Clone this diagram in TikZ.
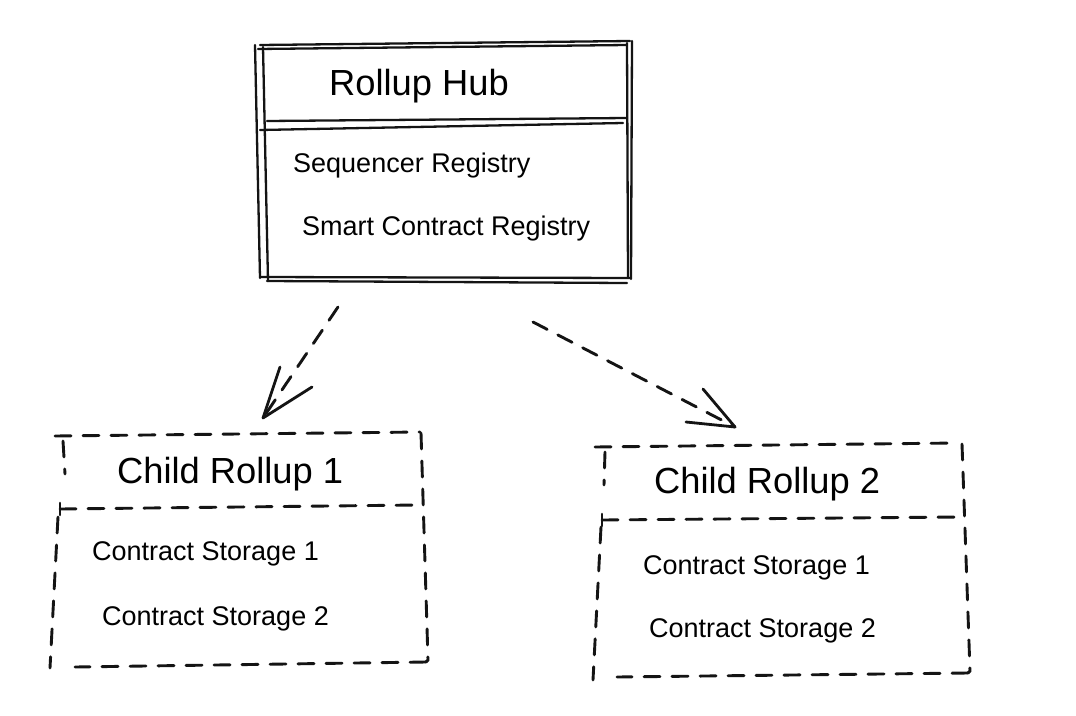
\documentclass[tikz,border=0pt]{standalone}
\usepackage{fontspec}
\setmainfont{Liberation Sans}
\begin{document}
\begin{tikzpicture}[x=1pt,y=-1pt,
  ink/.style={draw=black!92, line width=2.3pt, line cap=round, line join=round},
  dashink/.style={draw=black!92, line width=2.9pt, line cap=round, dash pattern=on 16pt off 12pt},
  titletext/.style={anchor=base west, inner sep=0pt, font=\fontsize{36.3}{40}\selectfont},
  bodytext/.style={anchor=base west, inner sep=0pt, font=\fontsize{27}{30}\selectfont}]
\useasboundingbox (0,0) rectangle (1076,715);
\fill[white] (0,0) rectangle (1076,715);

% ---------- Rollup Hub (sketchy double outline) ----------
\draw[ink] (260,45) -- (630,41);
\draw[ink] (258,49) -- (627,45);
\draw[ink] (255,45) -- (260,278);
\draw[ink] (263,47) -- (268,281);
\draw[ink] (627,43) -- (628,277);
\draw[ink] (632,41) -- (631,279);
\draw[ink] (260,277) -- (630,278);
\draw[ink] (267,281) -- (627,283);
\draw[ink] (267,121) -- (627,118);
\draw[ink] (260,130) -- (623,123);

\node[titletext] (hubtitle) at (329,95) {Rollup Hub};
\node[bodytext] (seqreg) at (293,172) {Sequencer Registry};
\node[bodytext] (screg) at (302,235) {Smart Contract Registry};

% ---------- Child Rollup 1 ----------
\draw[dashink] (55,436) -- (420,432);
\draw[dashink] (421,433) -- (428,660) -- (426,662);
\draw[dashink] (426,662) -- (75,667);
\draw[dashink] (63,441) -- (65,474);
\draw[dashink] (58,517) -- (50,668);
\draw[ink, line width=2.6pt] (60,503) -- (60,515);
\draw[dashink] (60,509) -- (417,505);

\node[titletext] (c1title) at (117,483) {Child Rollup 1};
\node[bodytext] (c1s1) at (92,560) {Contract Storage 1};
\node[bodytext] (c1s2) at (102,625) {Contract Storage 2};

% ---------- Child Rollup 2 ----------
\draw[dashink] (595,447) -- (957,443);
\draw[dashink] (962,444) -- (970,671) -- (968,673);
\draw[dashink] (968,673) -- (617,677);
\draw[dashink] (605,452) -- (604,485);
\draw[dashink] (601,527) -- (593,680);
\draw[ink, line width=2.6pt] (602,514) -- (602,526);
\draw[dashink] (602,520) -- (960,517);

\node[titletext] (c2title) at (654,493) {Child Rollup 2};
\node[bodytext] (c2s1) at (643,574) {Contract Storage 1};
\node[bodytext] (c2s2) at (649,637) {Contract Storage 2};

% ---------- Arrows ----------
\coordinate (h1) at (338,307);
\coordinate (t1) at (263,418);
\coordinate (b1a) at (280,367);
\coordinate (b1b) at (312,387);
\draw[dashink] (h1) -- (t1);
\draw[ink, line width=2.8pt] (b1a) -- (t1) -- (b1b);

\coordinate (h2) at (533,322);
\coordinate (t2) at (735,427);
\coordinate (b2a) at (703,389);
\coordinate (b2b) at (686,422);
\draw[dashink] (h2) -- (t2);
\draw[ink, line width=2.8pt] (b2a) -- (t2) -- (b2b);
\end{tikzpicture}
\end{document}
